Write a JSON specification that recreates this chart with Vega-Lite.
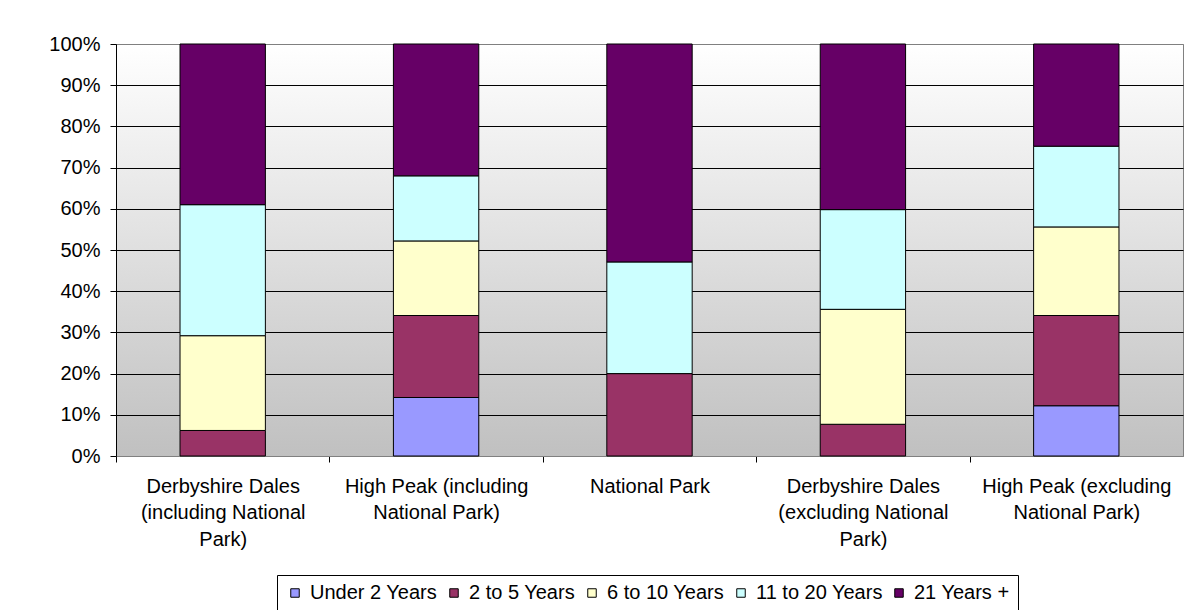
{
  "$schema": "https://vega.github.io/schema/vega-lite/v6.json",
  "autosize": {"type": "none"},
  "padding": {"left": 116, "top": 44, "right": 1, "bottom": 154},
  "width": 1067,
  "height": 412,
  "background": "white",
  "config": {
    "font": "Liberation Sans",
    "view": {
      "fill": {"gradient": "linear", "x1": 0, "y1": 0, "x2": 0, "y2": 1,
        "stops": [{"offset": 0, "color": "#ffffff"}, {"offset": 1, "color": "#c0c0c0"}]},
      "stroke": "#808080",
      "strokeWidth": 1
    }
  },
  "data": {
    "values": [
      {"area": "Derbyshire Dales (including National Park)", "age": "2 to 5 Years", "idx": 2, "share": 0.062},
      {"area": "Derbyshire Dales (including National Park)", "age": "6 to 10 Years", "idx": 3, "share": 0.230},
      {"area": "Derbyshire Dales (including National Park)", "age": "11 to 20 Years", "idx": 4, "share": 0.318},
      {"area": "Derbyshire Dales (including National Park)", "age": "21 Years +", "idx": 5, "share": 0.390},
      {"area": "High Peak (including National Park)", "age": "Under 2 Years", "idx": 1, "share": 0.142},
      {"area": "High Peak (including National Park)", "age": "2 to 5 Years", "idx": 2, "share": 0.199},
      {"area": "High Peak (including National Park)", "age": "6 to 10 Years", "idx": 3, "share": 0.181},
      {"area": "High Peak (including National Park)", "age": "11 to 20 Years", "idx": 4, "share": 0.158},
      {"area": "High Peak (including National Park)", "age": "21 Years +", "idx": 5, "share": 0.320},
      {"area": "National Park", "age": "2 to 5 Years", "idx": 2, "share": 0.200},
      {"area": "National Park", "age": "11 to 20 Years", "idx": 4, "share": 0.271},
      {"area": "National Park", "age": "21 Years +", "idx": 5, "share": 0.529},
      {"area": "Derbyshire Dales (excluding National Park)", "age": "2 to 5 Years", "idx": 2, "share": 0.077},
      {"area": "Derbyshire Dales (excluding National Park)", "age": "6 to 10 Years", "idx": 3, "share": 0.279},
      {"area": "Derbyshire Dales (excluding National Park)", "age": "11 to 20 Years", "idx": 4, "share": 0.242},
      {"area": "Derbyshire Dales (excluding National Park)", "age": "21 Years +", "idx": 5, "share": 0.402},
      {"area": "High Peak (excluding National Park)", "age": "Under 2 Years", "idx": 1, "share": 0.122},
      {"area": "High Peak (excluding National Park)", "age": "2 to 5 Years", "idx": 2, "share": 0.219},
      {"area": "High Peak (excluding National Park)", "age": "6 to 10 Years", "idx": 3, "share": 0.215},
      {"area": "High Peak (excluding National Park)", "age": "11 to 20 Years", "idx": 4, "share": 0.196},
      {"area": "High Peak (excluding National Park)", "age": "21 Years +", "idx": 5, "share": 0.248}
    ]
  },
  "mark": {"type": "bar", "stroke": "#000000", "strokeWidth": 1},
  "encoding": {
    "x": {
      "field": "area", "type": "nominal", "sort": null,
      "scale": {"paddingInner": 0.6, "paddingOuter": 0.3},
      "axis": {
        "title": null, "labelAngle": 0, "labelFontSize": 20, "labelColor": "#000000",
        "labelLineHeight": 26.5, "labelBaseline": "top", "labelPadding": 14,
        "tickOffset": -106.7, "labelOffset": 106.7,
        "ticks": true, "tickSize": 6, "tickColor": "#000000",
        "domainColor": "#808080", "labelLimit": 0,
        "labelExpr": "datum.value == 'Derbyshire Dales (including National Park)' ? ['Derbyshire Dales', '(including National', 'Park)'] : datum.value == 'High Peak (including National Park)' ? ['High Peak (including', 'National Park)'] : datum.value == 'Derbyshire Dales (excluding National Park)' ? ['Derbyshire Dales', '(excluding National', 'Park)'] : datum.value == 'High Peak (excluding National Park)' ? ['High Peak (excluding', 'National Park)'] : datum.value"
      }
    },
    "y": {
      "field": "share", "type": "quantitative", "stack": "normalize",
      "scale": {"domain": [0, 1], "nice": false},
      "axis": {
        "title": null, "format": ".0%", "values": [0, 0.1, 0.2, 0.3, 0.4, 0.5, 0.6, 0.7, 0.8, 0.9, 1],
        "labelFontSize": 20, "labelColor": "#000000", "labelPadding": 10,
        "tickSize": 6, "tickColor": "#000000", "domainColor": "#000000",
        "grid": true,
        "gridColor": {"condition": {"test": "datum.value >= 1 || datum.value <= 0", "value": "#808080"}, "value": "#000000"},
        "gridWidth": 1, "gridOpacity": 1
      }
    },
    "color": {
      "field": "age", "type": "nominal",
      "scale": {
        "domain": ["Under 2 Years", "2 to 5 Years", "6 to 10 Years", "11 to 20 Years", "21 Years +"],
        "range": ["#9999FF", "#993366", "#FFFFCC", "#CCFFFF", "#660066"]
      },
      "legend": {
        "title": null, "orient": "none", "legendX": 161, "legendY": 531,
        "direction": "horizontal", "columns": 5,
        "labelFontSize": 20, "labelColor": "#000000",
        "symbolType": "square", "symbolSize": 72, "symbolStrokeColor": "#000000", "symbolStrokeWidth": 1,
        "symbolOpacity": 1,
        "labelOffset": 5, "columnPadding": 6,
        "strokeColor": "#000000", "padding": 8, "fillColor": "#ffffff"
      }
    },
    "order": {"field": "idx", "type": "quantitative", "sort": "ascending"}
  }
}
